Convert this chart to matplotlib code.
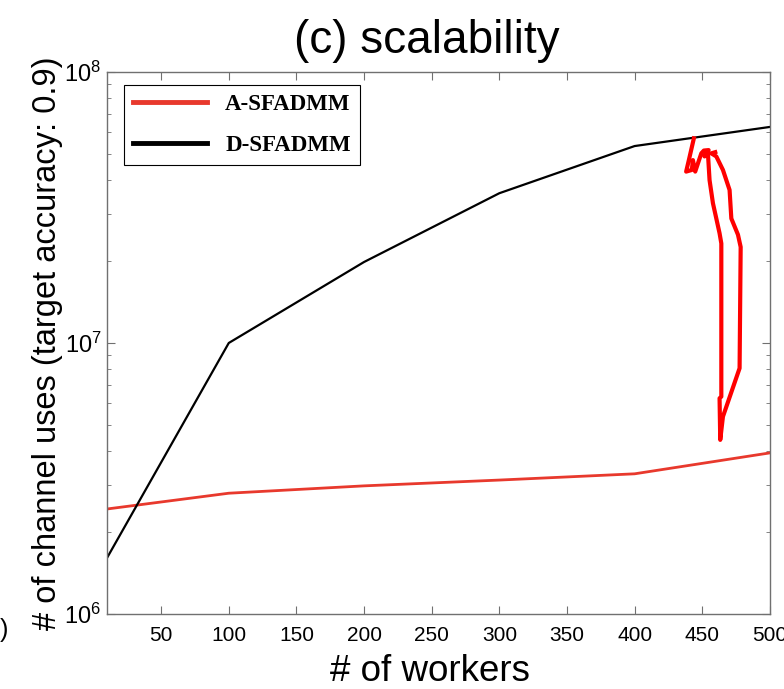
import numpy as np
import matplotlib.pyplot as plt

plt.rcParams['font.family'] = ['Liberation Sans', 'DejaVu Sans']
plt.rcParams['mathtext.fontset'] = 'custom'
plt.rcParams['mathtext.rm'] = 'Liberation Sans'

# number of workers
workers = [10, 100, 200, 300, 400, 500]

# channel uses needed to hit 0.9 accuracy
a_sfadmm = [2.44e6, 2.79e6, 2.97e6, 3.12e6, 3.29e6, 3.93e6]
d_sfadmm = [1.61e6, 1.00e7, 1.99e7, 3.57e7, 5.33e7, 6.27e7]

# freehand red mark drawn over the plot
mark_x = [443.8, 441.8, 440.1, 438.1, 442.3, 443.1, 444.8, 449.3, 451.2, 454.7,
          451.7, 454.2, 455.4, 457.9, 462.8, 464.1, 464.1, 462.8, 463.3, 465.3,
          477.6, 478.4, 476.4, 471.5, 470.2, 465.3, 460.4, 456.7, 459.6]
mark_y = [5.69e7, 5.15e7, 4.73e7, 4.29e7, 4.35e7, 4.73e7, 4.29e7, 5.01e7, 5.13e7, 5.15e7,
          4.88e7, 5.01e7, 3.99e7, 3.28e7, 2.54e7, 2.33e7, 6.34e6, 6.25e6, 4.39e6, 5.35e6,
          8.07e6, 2.26e7, 2.51e7, 2.88e7, 3.67e7, 4.35e7, 4.88e7, 5.01e7, 5.06e7]

xticks = [50, 100, 150, 200, 250, 300, 350, 400, 450, 500]

fig = plt.figure(figsize=(7.84, 6.89), dpi=100)
ax = fig.add_axes([0.1365, 0.1089, 0.8455, 0.7866])

ax.plot(workers, a_sfadmm, color='#e8392d', lw=2.0, label='A-SFADMM')
ax.plot(workers, d_sfadmm, color='black', lw=1.6, label='D-SFADMM')
ax.plot(mark_x, mark_y, color='#ff0000', lw=3.0, solid_joinstyle='round')

ax.set_yscale('log')
ax.set_xlim(10, 500)
ax.set_ylim(1e6, 1e8)
ax.set_xticks(xticks)
ax.set_yticks([1e6, 1e7, 1e8])

for s in ax.spines.values():
    s.set_color('#707070')
    s.set_linewidth(1.0)
ax.tick_params(which='both', direction='in', top=True, right=True, colors='#707070',
               labelcolor='black')
ax.tick_params(axis='x', labelsize=15, pad=9)
ax.tick_params(axis='y', labelsize=17, pad=4)
ax.tick_params(which='major', length=6)
ax.tick_params(which='minor', length=3)

ax.set_title('(c) scalability', fontsize=33, pad=14, x=0.483)
ax.set_xlabel('# of workers', fontsize=26.5, labelpad=6, x=0.488)
ax.set_ylabel('# of channel uses (target accuracy: 0.9)', fontsize=23.5, labelpad=1)

leg = ax.legend(loc='upper left', bbox_to_anchor=(0.026, 0.976), borderaxespad=0,
                fancybox=False, edgecolor='black', framealpha=1, handlelength=3.2,
                labelspacing=0.85,
                prop={'family': 'Liberation Serif', 'weight': 'bold', 'size': 16.5})
leg.get_frame().set_linewidth(0.8)
for line in leg.get_lines():
    line.set_linewidth(3.5)

fig.text(0.0, 0.075, ')', fontsize=18)

fig.savefig('out.png', dpi=100)
